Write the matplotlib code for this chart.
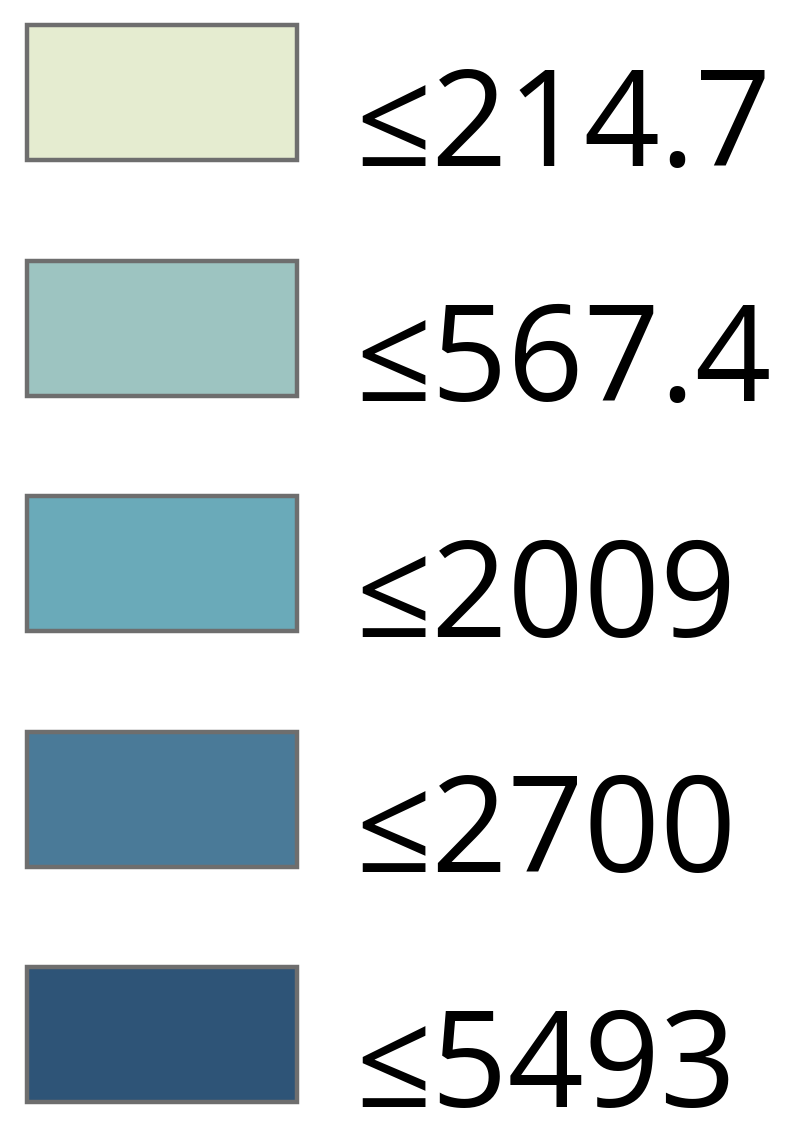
import matplotlib
matplotlib.use("Agg")
import matplotlib.pyplot as plt

labels = ["≤214.7", "≤567.4", "≤2009", "≤2700", "≤5493"]
colors = ["#e5ecd0", "#9dc4c1", "#6aaab9", "#4a7a98", "#2e5477"]

W, H = 810, 1144
fig = plt.figure(figsize=(W / 100, H / 100), dpi=100)
ax = fig.add_axes([0, 0, 1, 1])
ax.set_xlim(0, W)
ax.set_ylim(H, 0)
ax.axis("off")

y0, step = 92.5, 235.5
ys = [y0 + i * step for i in range(len(labels))]
ax.barh(ys, [270] * len(labels), left=27, height=135, color=colors,
        edgecolor="#6e6e6e", linewidth=3.2)
for y, lab in zip(ys, labels):
    ax.text(355, y + 73, lab, fontsize=96, va="baseline", ha="left",
            family=["Open Sans", "DejaVu Sans"], color="black")

fig.savefig("out.png", dpi=100)
